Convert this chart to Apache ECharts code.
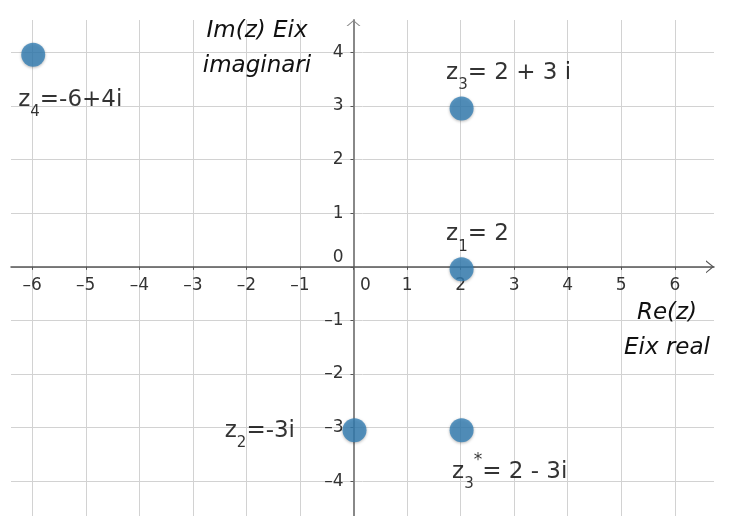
<!DOCTYPE html>
<html>
<head>
<meta charset="utf-8">
<script src="https://cdn.jsdelivr.net/npm/echarts@6/dist/echarts.min.js"></script>
<style>
html,body{margin:0;padding:0;background:#fff;}
#chart{width:732px;height:516px;}
</style>
</head>
<body>
<div id="chart"></div>
<script>
// ---- data ----
const pointNames = ['z1', 'z2', 'z3', 'z3*', 'z4'];
const reValues = [2, 0, 2, 2, -6];
const imValues = [0, -3, 3, -3, 4];
// label pieces: subscript, superscript, rest
const labelSub = ['1', '2', '3', '3', '4'];
const labelSup = ['', '', '', '*', ''];
const labelRest = ['= 2', '=-3i', '= 2 + 3 i', '= 2 - 3i', '=-6+4i'];
const xTicks = [-6, -5, -4, -3, -2, -1, 0, 1, 2, 3, 4, 5, 6];
const yTicks = [-4, -3, -2, -1, 0, 1, 2, 3, 4];
const xAxisTitle = 'Re(z)\nEix real';
const yAxisTitle = 'Im(z) Eix\nimaginari';

// ---- view range / styling ----
const xMin = -6.396, xMax = 6.732;
const yMin = -4.647, yMax = 4.603;
const FONT = 'DejaVu Sans';
const labelLayout = [
  {align: 'left', offset: [-15.5, -34.8]},
  {align: 'right', offset: [-59.5, 0.8]},
  {align: 'left', offset: [-15.5, -35.5]},
  {align: 'left', offset: [-9.5, 41.5]},
  {align: 'left', offset: [-15, 45]}
];
const fmtNum = v => (v < 0 ? '\u2013' + (-v) : String(v));

const richLabel = {
  n: {fontFamily: FONT, fontSize: 23, color: '#000', lineHeight: 40, verticalAlign: 'middle', textBorderWidth: 0},
  s: {fontFamily: FONT, fontSize: 15, color: '#000', lineHeight: 27, verticalAlign: 'bottom', textBorderWidth: 0},
  p: {fontFamily: FONT, fontSize: 17, color: '#000', lineHeight: 17, verticalAlign: 'top', textBorderWidth: 0}
};

const seriesData = reValues.map((re, i) => {
  let txt = '{n|z}{s|' + labelSub[i] + '}';
  if (labelSup[i]) txt += '{p|' + labelSup[i] + '}';
  txt += '{n|' + labelRest[i] + '}';
  return {
    name: pointNames[i],
    value: [re, imValues[i]],
    label: {
      show: true,
      position: 'inside',
      align: labelLayout[i].align,
      verticalAlign: 'middle',
      offset: labelLayout[i].offset,
      formatter: txt,
      color: '#000',
      textBorderWidth: 0,
      rich: richLabel
    }
  };
});

const chart = echarts.init(document.getElementById('chart'), null, {renderer: 'canvas'});
const option = {
  animation: false,
  backgroundColor: '#ffffff',
  grid: {left: 11, right: 18, top: 20, bottom: 0, containLabel: false, outerBoundsMode: 'none'},
  xAxis: {
    type: 'value',
    position: 'bottom',
    offset: 0,
    min: xMin, max: xMax,
    axisLine: {
      show: true, onZero: false,
      lineStyle: {color: '#555', width: 1.5},
      symbol: ['none', 'path://M0,8 L6.5,0 L13,8 L11.6,8 L6.5,1.8 L1.4,8 Z'],
      symbolSize: [13, 8],
      symbolOffset: [0, -4]
    },
    axisTick: {show: true, customValues: xTicks, length: 3, lineStyle: {color: '#555', width: 1}},
    axisLabel: {
      show: true,
      customValues: xTicks,
      margin: 10,
      fontFamily: FONT, fontSize: 17, color: '#333',
      formatter: v => (v === 0 ? '{z|0}' : fmtNum(v)),
      rich: {z: {fontFamily: FONT, fontSize: 17, color: '#333', padding: [0, 0, 0, 24]}}
    },
    splitLine: {show: true, lineStyle: {color: '#d2d2d2', width: 1}}
  },
  yAxis: {
    type: 'value',
    position: 'left',
    offset: 0,
    min: yMin, max: yMax,
    axisLine: {
      show: true, onZero: false,
      lineStyle: {color: '#888', width: 2},
      symbol: ['none', 'path://M0,6 L7,0 L14,6 L12.5,6 L7,1.3 L1.5,6 Z'],
      symbolSize: [14, 6],
      symbolOffset: [0, -3]
    },
    axisTick: {show: true, customValues: yTicks, length: 3, lineStyle: {color: '#555', width: 1}},
    axisLabel: {
      show: true,
      customValues: yTicks,
      margin: 10,
      fontFamily: FONT, fontSize: 17, color: '#333',
      formatter: v => (v === 0 ? '{z|0}' : fmtNum(v)),
      rich: {z: {fontFamily: FONT, fontSize: 17, color: '#333', padding: [0, 0, 19, 0]}}
    },
    splitLine: {show: true, lineStyle: {color: '#d2d2d2', width: 1}}
  },
  graphic: [
    {
      type: 'text', x: 257, y: 48.2, z: 10,
      style: {
        text: yAxisTitle, fontFamily: FONT, fontStyle: 'italic', fontSize: 23,
        lineHeight: 35, fill: '#111', align: 'center', verticalAlign: 'middle'
      }
    },
    {
      type: 'text', x: 667, y: 330.9, z: 10,
      style: {
        text: xAxisTitle, fontFamily: FONT, fontStyle: 'italic', fontSize: 23,
        lineHeight: 35, fill: '#111', align: 'center', verticalAlign: 'middle'
      }
    }
  ],
  series: [{
    type: 'scatter',
    data: seriesData,
    symbol: 'circle',
    symbolSize: 24,
    symbolOffset: [1, 2.5],
    itemStyle: {
      color: '#3480b5',
      shadowBlur: 3, shadowColor: 'rgba(0,0,0,0.35)', shadowOffsetY: 1
    },
    z: 5
  }]
};
chart.setOption(option);

// move both axes onto the origin, using the library's own scales
const origin = chart.convertToPixel({gridIndex: 0}, [0, 0]);
const rect = chart.getModel().getComponent('grid', 0).coordinateSystem.getRect();
chart.setOption({
  xAxis: {offset: -((rect.y + rect.height) - origin[1])},
  yAxis: {offset: -(origin[0] - rect.x)}
});
</script>
</body>
</html>
